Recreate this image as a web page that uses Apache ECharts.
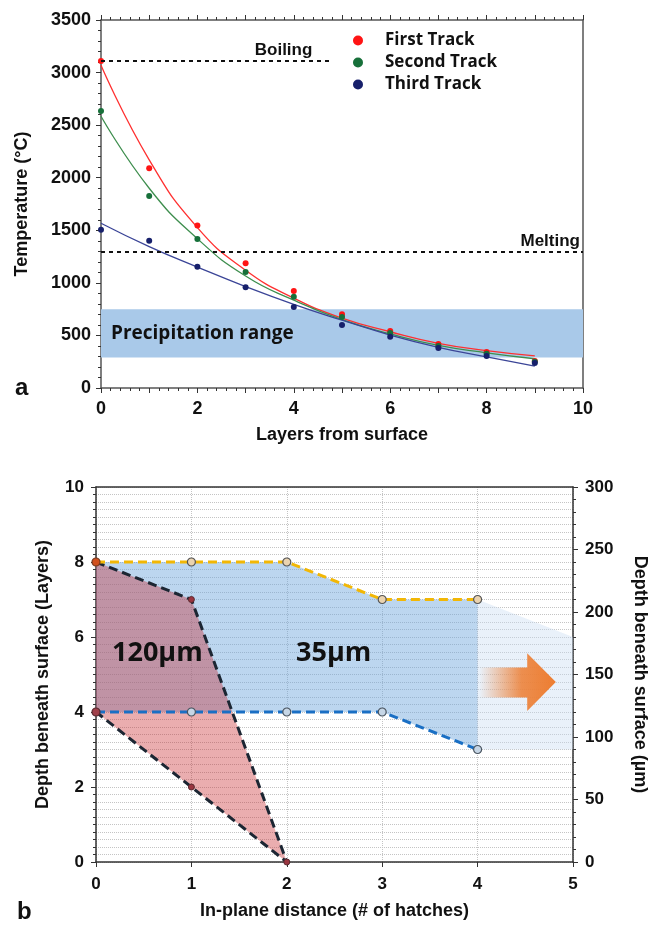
<!DOCTYPE html>
<html>
<head>
<meta charset="utf-8">
<script src="https://cdn.jsdelivr.net/npm/echarts@6/dist/echarts.min.js"></script>
<style>
html, body { margin: 0; padding: 0; background: #fff; }
#chart { width: 648px; height: 928px; }
</style>
</head>
<body>
<div id="chart"></div>
<script>
// panel a: peak temperature per layer
var layers = [0, 1, 2, 3, 4, 5, 6, 7, 8, 9];
var firstTrack = [3110, 2090, 1545, 1186, 923, 701, 542, 419, 342, 257];
var secondTrack = [2635, 1827, 1418, 1104, 869, 675, 523, 400, 325, 250];
var thirdTrack = [1506, 1401, 1154, 958, 770, 599, 488, 380, 304, 238];
var firstFit = [3070, 2170, 1525, 1120, 855, 665, 535, 425, 355, 305];
var secondFit = [2585, 1900, 1420, 1065, 835, 650, 515, 405, 335, 278];
var thirdFit = [1567, 1345, 1150, 965, 796, 645, 504, 387, 295, 209];
var boilingT = 3110, boilingEnd = 4.8, meltingT = 1300;
var precipRange = [290, 750];

// panel b: depth vs in-plane distance
var yellowLine = [[0, 8], [1, 8], [2, 8], [3, 7], [4, 7]];
var blueLine = [[0, 4], [1, 4], [2, 4], [3, 4], [4, 3]];
var blackLine = [[0, 8], [1, 7], [2, 0], [1, 2], [0, 4]];
var fadeZone = [[4, 7], [5, 6], [5, 3], [4, 3]];
var arrowPts = [[4.02, 5.19], [4.52, 5.19], [4.52, 5.57], [4.82, 4.8], [4.52, 4.03], [4.52, 4.39], [4.02, 4.39]];

var axisFont = 'Liberation Sans, Arial, sans-serif';
var noteFont = 'Open Sans, sans-serif';

function zip(xs, ys) {
    return xs.map(function(x, i) { return [x, ys[i]]; });
}

function labelStyle(size, margin) {
    return { fontFamily: axisFont, fontSize: size, fontWeight: 'bold', color: '#111', margin: margin,
        formatter: function(v) { return String(v); } };
}

function nameStyle() {
    return { fontFamily: axisFont, fontSize: 18, fontWeight: 'bold', color: '#111' };
}

function polygon(points, fill, z) {
    return {
        type: 'custom',
        xAxisIndex: 2,
        yAxisIndex: 2,
        z: z,
        silent: true,
        data: [[0, 0]],
        renderItem: function(params, api) {
            return {
                type: 'polygon',
                shape: { points: points.map(function(p) { return api.coord(p); }) },
                style: { fill: fill }
            };
        }
    };
}

var lineA = { onZero: false, lineStyle: { color: '#555', width: 1.5 } };
var lineB = { onZero: false, lineStyle: { color: '#333', width: 1.5 } };

var dom = document.getElementById('chart');
var myChart = echarts.init(dom, null, { renderer: 'canvas' });

var option = {
    animation: false,
    backgroundColor: '#fff',
    grid: [
        { left: 101, top: 20, width: 482, height: 368, containLabel: false, outerBoundsMode: 'none' },
        { left: 96, top: 487, width: 477, height: 375, containLabel: false, outerBoundsMode: 'none' }
    ],
    legend: {
        data: ['First Track', 'Second Track', 'Third Track'],
        orient: 'vertical',
        left: 348,
        top: 27,
        icon: 'circle',
        itemWidth: 10,
        itemHeight: 10,
        itemGap: 5,
        textStyle: { fontFamily: noteFont, fontSize: 17, fontWeight: 'bold', color: '#111', padding: [0, 0, 0, 17] }
    },
    graphic: [
        { type: 'text', left: 15, top: 376, style: { text: 'a', font: 'bold 24px ' + axisFont, fill: '#111' } },
        { type: 'text', left: 17, top: 900, style: { text: 'b', font: 'bold 24px ' + axisFont, fill: '#111' } },
        { type: 'text', left: 112, top: 640, style: { text: '120µm', font: 'bold 27px ' + noteFont, fill: '#111' }, z: 20 },
        { type: 'text', left: 296, top: 640, style: { text: '35µm', font: 'bold 27px ' + noteFont, fill: '#111' }, z: 20 }
    ],
    xAxis: [
        {
            type: 'value', gridIndex: 0, min: 0, max: 10, interval: 1,
            axisLine: lineA,
            axisTick: { length: 5, lineStyle: { color: '#333' } },
            minorTick: { show: true, splitNumber: 5, length: 3, lineStyle: { color: '#333' } },
            axisLabel: Object.assign(labelStyle(18, 12), { formatter: function(v) { return v % 2 === 0 ? String(v) : ''; } }),
            splitLine: { show: false },
            name: 'Layers from surface', nameLocation: 'middle', nameGap: 38, nameTextStyle: nameStyle()
        },
        {
            type: 'value', gridIndex: 0, position: 'top', min: 0, max: 10, interval: 1,
            axisLine: lineA,
            axisTick: { length: 5, lineStyle: { color: '#333' } },
            minorTick: { show: true, splitNumber: 5, length: 3, lineStyle: { color: '#333' } },
            axisLabel: { show: false },
            splitLine: { show: false }
        },
        {
            type: 'value', gridIndex: 1, min: 0, max: 5, interval: 1,
            axisLine: lineB,
            axisTick: { length: 5, lineStyle: { color: '#333' } },
            axisLabel: labelStyle(17, 14),
            splitLine: { show: true, lineStyle: { color: '#c4c4c4', type: 'dotted', width: 1 } },
            name: 'In-plane distance (# of hatches)', nameLocation: 'middle', nameGap: 40, nameTextStyle: nameStyle()
        },
        {
            type: 'value', gridIndex: 1, position: 'top', min: 0, max: 5, interval: 1,
            axisLine: lineB,
            axisTick: { show: false },
            axisLabel: { show: false },
            splitLine: { show: false }
        }
    ],
    yAxis: [
        {
            type: 'value', gridIndex: 0, min: 0, max: 3500, interval: 500,
            axisLine: lineA,
            axisTick: { show: true, length: 5, lineStyle: { color: '#333' } },
            minorTick: { show: true, splitNumber: 5, length: 3, lineStyle: { color: '#333' } },
            axisLabel: labelStyle(18, 10),
            splitLine: { show: false },
            name: 'Temperature (°C)', nameLocation: 'middle', nameGap: 70, nameTextStyle: nameStyle()
        },
        {
            type: 'value', gridIndex: 0, position: 'right', min: 0, max: 3500,
            axisLine: Object.assign({ show: true }, lineA),
            axisTick: { show: false },
            axisLabel: { show: false },
            splitLine: { show: false }
        },
        {
            type: 'value', gridIndex: 1, min: 0, max: 10, interval: 2,
            axisLine: lineB,
            axisTick: { show: true, length: 5, lineStyle: { color: '#333' } },
            minorTick: { show: true, splitNumber: 10, length: 3, lineStyle: { color: '#333' } },
            axisLabel: labelStyle(17, 12),
            splitLine: { show: true, lineStyle: { color: '#c4c4c4', type: 'dotted', width: 1 } },
            minorSplitLine: { show: true, lineStyle: { color: '#c4c4c4', type: 'dotted', width: 1 } },
            name: 'Depth beneath surface (Layers)', nameLocation: 'middle', nameGap: 44, nameTextStyle: nameStyle()
        },
        {
            type: 'value', gridIndex: 1, position: 'right', min: 0, max: 300, interval: 50,
            axisLine: Object.assign({ show: true }, lineB),
            axisTick: { show: true, length: 5, lineStyle: { color: '#333' } },
            minorTick: { show: true, splitNumber: 5, length: 3, lineStyle: { color: '#333' } },
            axisLabel: labelStyle(17, 12),
            splitLine: { show: false },
            name: 'Depth beneath surface (µm)', nameLocation: 'middle', nameGap: 58, nameRotate: -90, nameTextStyle: nameStyle()
        }
    ],
    series: [
        {
            name: 'First Fit', type: 'line', xAxisIndex: 0, yAxisIndex: 0, smooth: true, symbol: 'none',
            data: zip(layers, firstFit), lineStyle: { color: '#ff3030', width: 1.3 }, z: 3,
            markArea: {
                silent: true,
                itemStyle: { color: '#a9c9e9' },
                label: { show: true, position: 'insideLeft', distance: 10, formatter: 'Precipitation range', fontFamily: noteFont, fontSize: 19, fontWeight: 'bold', color: '#111' },
                data: [[{ xAxis: 0, yAxis: precipRange[0] }, { xAxis: 10, yAxis: precipRange[1] }]]
            },
            markLine: {
                silent: true, symbol: 'none',
                lineStyle: { color: '#111', type: [4, 4], width: 2 },
                label: { show: true, position: 'insideEndTop', fontFamily: axisFont, fontSize: 17, fontWeight: 'bold', color: '#111', distance: [20, 2] },
                data: [
                    [{ coord: [0, boilingT], label: { formatter: 'Boiling' } }, { coord: [boilingEnd, boilingT] }],
                    [{ coord: [0, meltingT], label: { formatter: 'Melting', distance: [3, 2] } }, { coord: [10, meltingT] }]
                ]
            }
        },
        { name: 'Second Fit', type: 'line', xAxisIndex: 0, yAxisIndex: 0, smooth: true, symbol: 'none', data: zip(layers, secondFit), lineStyle: { color: '#3e8e4e', width: 1.3 }, z: 3 },
        { name: 'Third Fit', type: 'line', xAxisIndex: 0, yAxisIndex: 0, smooth: true, symbol: 'none', data: zip(layers, thirdFit), lineStyle: { color: '#3b4597', width: 1.3 }, z: 3 },
        { name: 'First Track', type: 'scatter', xAxisIndex: 0, yAxisIndex: 0, symbolSize: 6, data: zip(layers, firstTrack), itemStyle: { color: '#ff1414', opacity: 1 }, z: 4 },
        { name: 'Second Track', type: 'scatter', xAxisIndex: 0, yAxisIndex: 0, symbolSize: 6, data: zip(layers, secondTrack), itemStyle: { color: '#17703a', opacity: 1 }, z: 4 },
        { name: 'Third Track', type: 'scatter', xAxisIndex: 0, yAxisIndex: 0, symbolSize: 6, data: zip(layers, thirdTrack), itemStyle: { color: '#17206b', opacity: 1 }, z: 4 },

        polygon(fadeZone, 'rgba(200,220,242,0.4)', 1),
        polygon(yellowLine.concat(blueLine.slice().reverse()), 'rgba(110,165,220,0.46)', 2),
        polygon(blackLine, 'rgba(200,40,45,0.38)', 3),
        {
            type: 'custom', xAxisIndex: 2, yAxisIndex: 2, z: 4, silent: true, data: [[0, 0]],
            renderItem: function(params, api) {
                return {
                    type: 'polygon',
                    shape: { points: arrowPts.map(function(p) { return api.coord(p); }) },
                    style: {
                        fill: new echarts.graphic.LinearGradient(0, 0, 1, 0, [
                            { offset: 0, color: 'rgba(237,125,49,0)' },
                            { offset: 0.55, color: 'rgba(237,125,49,0.85)' },
                            { offset: 1, color: 'rgba(237,125,49,1)' }
                        ])
                    }
                };
            }
        },
        {
            name: 'black', type: 'line', xAxisIndex: 2, yAxisIndex: 2, z: 5, data: blackLine,
            lineStyle: { color: '#1c2633', width: 3, type: [9, 5] },
            symbol: 'circle', symbolSize: 6, itemStyle: { color: '#9a3540', borderColor: '#5a2a30', borderWidth: 1 }
        },
        {
            name: 'yellow', type: 'line', xAxisIndex: 2, yAxisIndex: 2, z: 6, data: yellowLine.map(function(p, i) {
                return i === 0 ? { value: p, itemStyle: { color: '#d2501e', borderColor: '#7a3a20' } } : p;
            }),
            lineStyle: { color: '#f2b705', width: 3, type: [9, 5] },
            symbol: 'circle', symbolSize: 8, itemStyle: { color: '#ead3b0', borderColor: '#555', borderWidth: 1.2 }
        },
        {
            name: 'blue', type: 'line', xAxisIndex: 2, yAxisIndex: 2, z: 6, data: blueLine.map(function(p, i) {
                return i === 0 ? { value: p, itemStyle: { color: '#a0404a', borderColor: '#5a2a30' } } : p;
            }),
            lineStyle: { color: '#1a6fc4', width: 3, type: [9, 5] },
            symbol: 'circle', symbolSize: 8, itemStyle: { color: '#c6d6e6', borderColor: '#4a5560', borderWidth: 1.2 }
        }
    ]
};

option && typeof option === 'object' && myChart.setOption(option, true);
</script>
</body>
</html>
